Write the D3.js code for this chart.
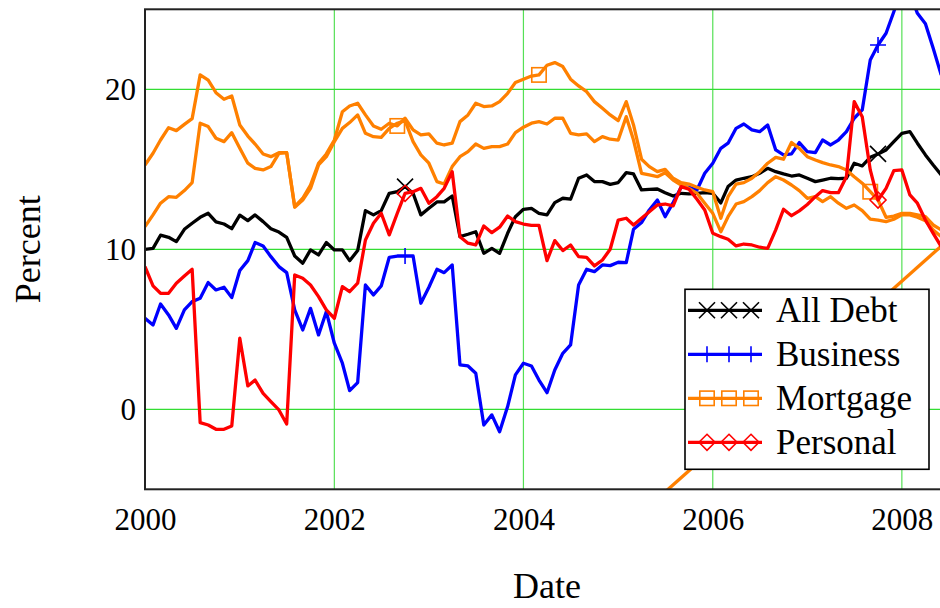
<!DOCTYPE html>
<html>
<head>
<meta charset="utf-8">
<script src="https://cdnjs.cloudflare.com/ajax/libs/d3/7.8.5/d3.min.js"></script>
<style>
  body { margin: 0; background: #fff; }
  svg { display: block; font-family: "Liberation Serif", "Times New Roman", serif; }
</style>
</head>
<body>
<script>
'use strict';

// monthly readings, Jan 2000 .. Jun 2008 (percent)
var allDebt = [10.0, 10.06, 10.88, 10.75, 10.48, 11.25, 11.63, 12.0, 12.25, 11.71, 11.58, 11.29,
  12.13, 11.79, 12.15, 11.73, 11.29, 11.08, 10.75, 9.58, 9.13, 9.96, 9.65, 10.42,
  9.96, 9.96, 9.29, 9.92, 12.42, 12.15, 12.42, 13.5, 13.6, 13.92, 13.5, 12.15,
  12.56, 12.96, 12.96, 13.33, 10.79, 10.94, 11.1, 9.75, 10.06, 9.75, 11.0, 12.04,
  12.5, 12.56, 12.25, 12.15, 12.92, 13.19, 13.13, 14.44, 14.65, 14.23, 14.23, 14.06,
  14.17, 14.79, 14.71, 13.71, 13.75, 13.77, 13.54, 13.33, 13.5, 13.46, 13.5, 13.54,
  13.5, 12.9, 13.92, 14.33, 14.44, 14.54, 14.75, 15.06, 14.85, 14.71, 14.58, 14.65,
  14.44, 14.23, 14.33, 14.44, 14.42, 14.44, 15.38, 15.21, 15.75, 15.96, 16.21, 16.73,
  17.25, 17.35, 16.63, 15.9, 15.27, 14.65];

var business = [5.69, 5.27, 6.58, 5.9, 5.06, 6.21, 6.73, 6.94, 7.92, 7.46, 7.63, 6.98,
  8.67, 9.29, 10.42, 10.21, 9.54, 8.92, 8.54, 6.21, 4.96, 6.31, 4.65, 6.1,
  4.13, 2.88, 1.17, 1.67, 7.77, 7.15, 7.71, 9.5, 9.58, 9.58, 9.58, 6.63,
  7.63, 8.75, 8.54, 9.02, 2.77, 2.71, 2.25, -0.98, -0.35, -1.4, 0.17, 2.15,
  2.88, 2.71, 1.83, 1.04, 2.46, 3.5, 4.02, 7.77, 8.75, 8.6, 9.02, 8.98,
  9.19, 9.17, 11.25, 11.67, 12.46, 13.08, 12.04, 12.92, 13.88, 13.88, 13.71, 14.75,
  15.38, 16.31, 16.63, 17.56, 17.83, 17.46, 17.35, 17.77, 16.21, 15.9, 15.96, 16.67,
  16.1, 16.04, 16.83, 16.52, 16.83, 17.35, 18.19, 18.71, 21.83, 22.77, 23.5, 24.85,
  26.3, 26.0, 24.75, 24.1, 22.56, 20.9];

var mortgage = [15.27, 16.0, 16.83, 17.6, 17.42, 17.81, 18.17, 20.9, 20.58, 19.79, 19.38, 19.58,
  17.77, 17.08, 16.58, 15.96, 15.79, 16.04, 16.04, 12.67, 13.19, 14.02, 15.38, 15.96,
  16.83, 18.6, 18.96, 19.13, 18.4, 17.71, 17.5, 17.88, 17.71, 18.19, 17.46, 17.15,
  17.21, 16.63, 16.52, 16.63, 17.98, 18.4, 19.13, 18.92, 18.96, 19.23, 19.75, 20.42,
  20.63, 20.83, 20.9, 21.5, 21.67, 21.42, 20.63, 20.21, 19.85, 19.23, 18.81, 18.4,
  18.04, 19.23, 17.77, 15.63, 15.17, 14.85, 15.0, 14.44, 14.17, 14.08, 13.88, 13.71,
  13.6, 11.94, 13.29, 14.08, 14.17, 14.44, 14.85, 15.38, 15.75, 15.63, 16.67, 16.31,
  15.79, 15.58, 15.42, 15.27, 15.17, 14.96, 14.54, 14.13, 13.6, 13.08, 12.0, 12.08,
  12.25, 12.25, 12.15, 12.04, 11.52, 11.21];

var mortgageB = [11.42, 12.15, 12.88, 13.29, 13.25, 13.67, 14.17, 17.88, 17.67, 16.94, 16.73, 17.29,
  16.31, 15.38, 15.06, 14.96, 15.17, 16.0, 16.04, 12.63, 13.08, 13.81, 15.27, 15.79,
  16.73, 17.56, 17.92, 18.4, 17.25, 17.04, 17.0, 17.56, 17.88, 18.04, 16.73, 15.9,
  15.38, 14.23, 14.08, 15.17, 15.79, 16.1, 16.58, 16.31, 16.42, 16.42, 16.58, 17.29,
  17.63, 17.88, 17.98, 17.83, 18.19, 18.19, 17.25, 17.15, 17.21, 16.73, 17.04, 16.88,
  16.83, 18.29, 16.83, 14.75, 14.65, 14.54, 14.79, 14.33, 14.02, 13.81, 13.5, 12.88,
  12.25, 11.1, 12.04, 12.83, 12.98, 13.29, 13.67, 14.17, 14.54, 14.33, 14.02, 13.67,
  13.19, 13.29, 12.98, 13.29, 12.88, 12.56, 12.77, 12.42, 11.88, 11.83, 11.73, 11.88,
  12.15, 12.15, 12.0, 11.79, 11.21, 10.79];

var personal = [8.92, 7.71, 7.25, 7.25, 7.88, 8.33, 8.75, -0.83, -0.98, -1.25, -1.25, -1.04,
  4.44, 1.46, 1.83, 1.0, 0.48, -0.04, -0.92, 8.4, 8.19, 7.77, 7.04, 6.21,
  5.69, 7.67, 7.35, 7.88, 10.58, 11.63, 12.25, 10.9, 12.25, 13.5, 13.6, 13.81,
  12.88, 13.29, 13.81, 14.85, 10.79, 10.38, 10.27, 11.46, 11.04, 11.38, 12.08, 11.73,
  11.58, 11.5, 11.5, 9.29, 10.54, 9.92, 10.27, 9.54, 9.5, 8.96, 9.33, 10.0,
  11.83, 11.94, 11.52, 11.94, 12.35, 12.77, 12.83, 12.71, 13.92, 13.75, 13.13, 12.46,
  11.0, 10.79, 10.63, 10.21, 10.33, 10.27, 10.13, 10.06, 11.21, 12.5, 12.1, 12.4,
  12.8, 13.29, 13.67, 13.54, 13.54, 14.54, 19.23, 18.29, 14.96, 13.08, 13.81, 14.92,
  14.96, 13.4, 12.88, 11.83, 11.0, 10.17];

// straight orange segment rising in the last years
var trendDates = ["2005-06-01", "2008-06-01"];
var trendValues = [-5.6, 10.2];

var xTickYears = [2000, 2002, 2004, 2006, 2008];
var yTickValues = [0, 10, 20];
var legendNames = ["All Debt", "Business", "Mortgage", "Personal"];

var months = allDebt.map(function(d, i) { return new Date(2000, i, 1); });

var series = [
  {name: "All Debt", values: allDebt, color: "#000000", mark: "x", marks: [33, 93]},
  {name: "Business", values: business, color: "#0000ff", mark: "plus", marks: [33, 93]},
  {name: "Mortgage", values: mortgageB, color: "#ff8000", mark: "square", marks: []},
  {name: "Mortgage", values: mortgage, color: "#ff8000", mark: "square", marks: [32, 50, 92]},
  {name: "Personal", values: personal, color: "#ff0000", mark: "diamond", marks: [33, 93]}
];

var svg = d3.select("body").append("svg")
  .attr("width", 940)
  .attr("height", 608);

var margin = {top: 9.3, left: 145, right: 949, bottom: 489.3};

var x = d3.scaleTime()
  .domain([new Date(2000, 0, 1), new Date(2008, 6, 1)])
  .range([margin.left, margin.right]);

var y = d3.scaleLinear()
  .domain([-5, 25])
  .range([margin.bottom, margin.top]);

svg.append("clipPath").attr("id", "plotclip")
  .append("rect")
  .attr("x", margin.left).attr("y", margin.top)
  .attr("width", margin.right - margin.left)
  .attr("height", margin.bottom - margin.top);

// grid
var grid = svg.append("g");
grid.selectAll(".vgrid").data(xTickYears).enter().append("line")
  .attr("x1", function(d) { return x(new Date(d, 0, 1)); })
  .attr("x2", function(d) { return x(new Date(d, 0, 1)); })
  .attr("y1", margin.top).attr("y2", margin.bottom)
  .attr("stroke", "#55e055").attr("stroke-width", 1.2);
grid.selectAll(".hgrid").data(yTickValues).enter().append("line")
  .attr("x1", margin.left).attr("x2", margin.right)
  .attr("y1", function(d) { return y(d); })
  .attr("y2", function(d) { return y(d); })
  .attr("stroke", "#33dd33").attr("stroke-width", 1.2);

// markers
function drawMark(g, type, cx, cy, color, r) {
  if (type === "x") {
    g.append("path")
      .attr("d", "M" + (cx - r) + "," + (cy - r) + "L" + (cx + r) + "," + (cy + r) +
        "M" + (cx - r) + "," + (cy + r) + "L" + (cx + r) + "," + (cy - r))
      .attr("stroke", color).attr("stroke-width", 1.6).attr("fill", "none");
  } else if (type === "plus") {
    g.append("path")
      .attr("d", "M" + (cx - r) + "," + cy + "L" + (cx + r) + "," + cy +
        "M" + cx + "," + (cy - r) + "L" + cx + "," + (cy + r))
      .attr("stroke", color).attr("stroke-width", 1.6).attr("fill", "none");
  } else if (type === "square") {
    g.append("rect")
      .attr("x", cx - r * 0.9).attr("y", cy - r * 0.9)
      .attr("width", r * 1.8).attr("height", r * 1.8)
      .attr("stroke", color).attr("stroke-width", 1.6).attr("fill", "none");
  } else if (type === "diamond") {
    g.append("path")
      .attr("d", "M" + cx + "," + (cy - r) + "L" + (cx + r) + "," + cy + "L" + cx + "," + (cy + r) +
        "L" + (cx - r) + "," + cy + "Z")
      .attr("stroke", color).attr("stroke-width", 1.6).attr("fill", "none");
  }
}

var line = d3.line()
  .x(function(d, i) { return x(months[i]); })
  .y(function(d) { return y(d); });

var plot = svg.append("g").attr("clip-path", "url(#plotclip)");

plot.append("path")
  .datum(trendValues)
  .attr("d", d3.line()
    .x(function(d, i) { return x(new Date(trendDates[i])); })
    .y(function(d) { return y(d); }))
  .attr("fill", "none")
  .attr("stroke", "#ff8000")
  .attr("stroke-width", 3.3);

series.forEach(function(s) {
  plot.append("path")
    .datum(s.values)
    .attr("d", line)
    .attr("fill", "none")
    .attr("stroke", s.color)
    .attr("stroke-width", 3.3)
    .attr("stroke-linejoin", "round");
  s.marks.forEach(function(i) {
    drawMark(plot, s.mark, x(months[i]), y(s.values[i]), s.color, 8);
  });
});

// frame
svg.append("rect")
  .attr("x", margin.left).attr("y", margin.top)
  .attr("width", margin.right - margin.left)
  .attr("height", margin.bottom - margin.top)
  .attr("fill", "none").attr("stroke", "#222").attr("stroke-width", 2);

// axes
var xAxis = svg.append("g")
  .attr("transform", "translate(0," + margin.bottom + ")")
  .call(d3.axisBottom(x)
    .tickValues(xTickYears.map(function(d) { return new Date(d, 0, 1); }))
    .tickFormat(d3.timeFormat("%Y"))
    .tickSize(0).tickPadding(19));
xAxis.select(".domain").remove();
xAxis.selectAll("text").attr("font-size", 31).attr("fill", "#000")
  .style("font-family", "'Liberation Serif', serif");

var yAxis = svg.append("g")
  .attr("transform", "translate(" + margin.left + ",0)")
  .call(d3.axisLeft(y).tickValues(yTickValues).tickSize(0).tickPadding(9));
yAxis.select(".domain").remove();
yAxis.selectAll("text").attr("font-size", 31).attr("fill", "#000")
  .style("font-family", "'Liberation Serif', serif");

svg.append("text")
  .attr("transform", "translate(40," + ((margin.top + margin.bottom) / 2) + ") rotate(-90)")
  .attr("text-anchor", "middle")
  .attr("font-size", 36)
  .text("Percent");

svg.append("text")
  .attr("x", (margin.left + margin.right) / 2)
  .attr("y", 598)
  .attr("text-anchor", "middle")
  .attr("font-size", 36)
  .text("Date");

// legend
var legendStyle = [
  {color: "#000000", mark: "x"},
  {color: "#0000ff", mark: "plus"},
  {color: "#ff8000", mark: "square"},
  {color: "#ff0000", mark: "diamond"}
];
var lgW = 244, lgH = 180;
var lgX = margin.right - 20 - lgW, lgY = margin.bottom - 20 - lgH;
var legend = svg.append("g");
legend.append("rect")
  .attr("x", lgX).attr("y", lgY)
  .attr("width", lgW).attr("height", lgH)
  .attr("fill", "#fff").attr("stroke", "#000").attr("stroke-width", 1.6);

legendNames.forEach(function(name, i) {
  var cy = lgY + 21 + i * 44;
  var st = legendStyle[i];
  legend.append("line")
    .attr("x1", lgX + 3).attr("x2", lgX + 77)
    .attr("y1", cy).attr("y2", cy)
    .attr("stroke", st.color).attr("stroke-width", 3.2);
  [22, 44, 66].forEach(function(dx) {
    drawMark(legend, st.mark, lgX + dx, cy, st.color, 8);
  });
  legend.append("text")
    .attr("x", lgX + 91)
    .attr("y", cy + 12)
    .attr("font-size", 35)
    .text(name);
});
</script>
</body>
</html>
